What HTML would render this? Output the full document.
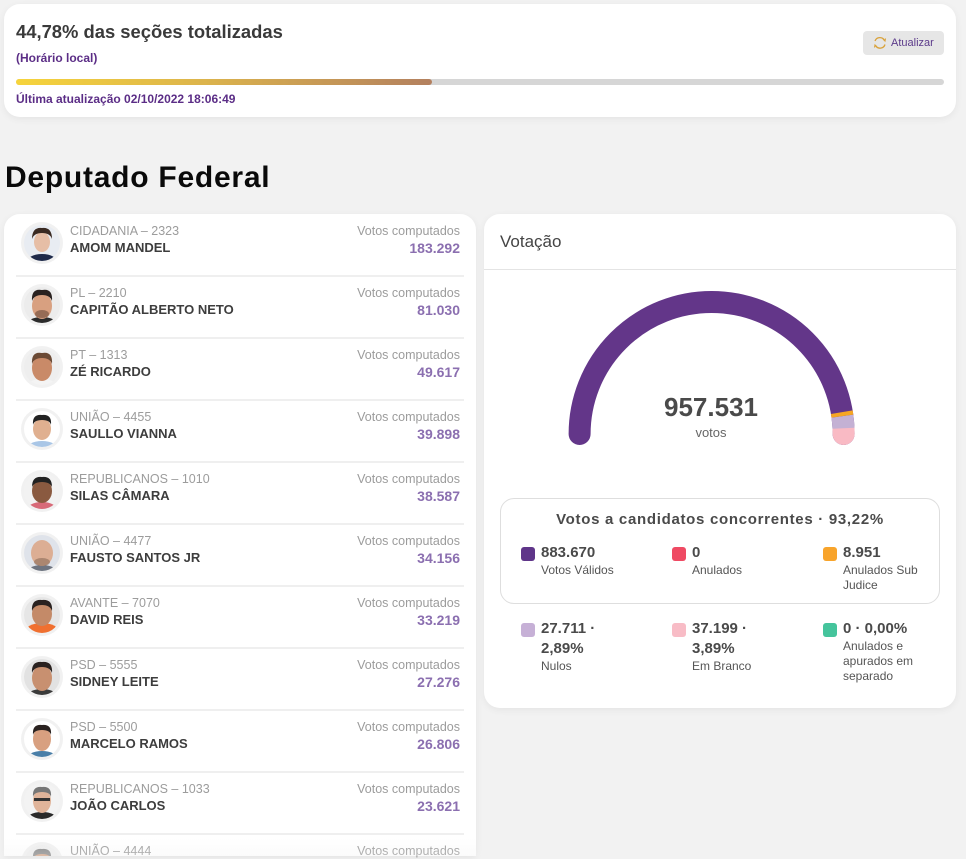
<!DOCTYPE html>
<html><head><meta charset="utf-8">
<style>
*{box-sizing:border-box;margin:0;padding:0}
html,body{width:966px;height:856px;overflow:hidden;background:#f2f2f2;font-family:"Liberation Sans",Arial,sans-serif}
.abs{position:absolute;white-space:nowrap}
.card{position:absolute;background:#fff;border-radius:16px;box-shadow:0 2px 8px rgba(0,0,0,0.06)}
.party{position:absolute;left:70px;font-size:12.5px;color:#9c9c9c;line-height:16px;white-space:nowrap}
.name{position:absolute;left:70px;font-size:13px;font-weight:bold;color:#3d3d3d;line-height:16px;white-space:nowrap}
.vc{position:absolute;right:506px;font-size:12.5px;color:#9c9c9c;line-height:16px;white-space:nowrap;text-align:right}
.num{position:absolute;right:506px;font-size:14px;font-weight:bold;color:#8b6fb0;line-height:16px;white-space:nowrap;text-align:right}
.sep{position:absolute;left:16px;width:448px;height:2px;background:#efefef}
.sq{position:absolute;width:14px;height:14px;border-radius:3px}
.val{position:absolute;font-size:15px;font-weight:bold;color:#4a4a4a;line-height:20px;white-space:nowrap}
.lab{position:absolute;font-size:12px;color:#555;line-height:15px;white-space:nowrap}
</style></head><body>

<!-- top card -->
<div class="card" style="left:4px;top:4px;width:952px;height:113px;"></div>
<div class="abs" style="left:16px;top:21px;font-size:18.4px;font-weight:bold;color:#3a3a3a;line-height:22px;">44,78% das seções totalizadas</div>
<div class="abs" style="left:16px;top:50px;font-size:12px;font-weight:bold;color:#5b2d86;line-height:16px;">(Horário local)</div>
<div class="abs" style="left:16px;top:79px;width:928px;height:6px;border-radius:3px;background:#d6d6d6;"></div>
<div class="abs" style="left:16px;top:79px;width:416px;height:6px;border-radius:3px;background:linear-gradient(90deg,#f6d43c,#dcb44c 45%,#b3805f);"></div>
<div class="abs" style="left:16px;top:91px;font-size:12px;font-weight:bold;color:#5b2d86;line-height:16px;">Última atualização 02/10/2022 18:06:49</div>
<div class="abs" style="left:863px;top:31px;width:81px;height:24px;border-radius:4px;background:#e6e6e6;"></div>
<svg class="abs" style="left:872px;top:36px" width="16" height="14" viewBox="0 0 16 14">
 <path d="M3 5 A5.2 5.2 0 0 1 12.5 4.5" fill="none" stroke="#d9a23a" stroke-width="1.3"/>
 <path d="M13 8.5 A5.2 5.2 0 0 1 3.5 9.5" fill="none" stroke="#d9a23a" stroke-width="1.3"/>
 <path d="M11 3 L13 5 L13.5 2.5" fill="none" stroke="#d9a23a" stroke-width="1.1"/>
 <path d="M5 11 L3 9 L2.5 11.5" fill="none" stroke="#d9a23a" stroke-width="1.1"/>
</svg>
<div class="abs" style="left:891px;top:36px;font-size:11px;color:#5b3a8a;line-height:14px;">Atualizar</div>

<!-- heading -->
<div class="abs" style="left:5px;top:160px;font-size:30px;font-weight:bold;color:#0a0a0a;line-height:36px;letter-spacing:0.75px;">Deputado Federal</div>

<!-- left card -->
<div class="card" style="left:4px;top:214px;width:472px;height:642px;border-radius:16px 16px 0 0;"></div>

<div class="party" style="top:223px">CIDADANIA – 2323</div>
<div class="name" style="top:240px">AMOM MANDEL</div>
<div class="vc" style="top:223px">Votos computados</div>
<div class="num" style="top:240px">183.292</div>
<div class="sep" style="top:275px"></div>

<div class="party" style="top:285px">PL – 2210</div>
<div class="name" style="top:302px">CAPITÃO ALBERTO NETO</div>
<div class="vc" style="top:285px">Votos computados</div>
<div class="num" style="top:302px">81.030</div>
<div class="sep" style="top:337px"></div>

<div class="party" style="top:347px">PT – 1313</div>
<div class="name" style="top:364px">ZÉ RICARDO</div>
<div class="vc" style="top:347px">Votos computados</div>
<div class="num" style="top:364px">49.617</div>
<div class="sep" style="top:399px"></div>

<div class="party" style="top:409px">UNIÃO – 4455</div>
<div class="name" style="top:426px">SAULLO VIANNA</div>
<div class="vc" style="top:409px">Votos computados</div>
<div class="num" style="top:426px">39.898</div>
<div class="sep" style="top:461px"></div>

<div class="party" style="top:471px">REPUBLICANOS – 1010</div>
<div class="name" style="top:488px">SILAS CÂMARA</div>
<div class="vc" style="top:471px">Votos computados</div>
<div class="num" style="top:488px">38.587</div>
<div class="sep" style="top:523px"></div>

<div class="party" style="top:533px">UNIÃO – 4477</div>
<div class="name" style="top:550px">FAUSTO SANTOS JR</div>
<div class="vc" style="top:533px">Votos computados</div>
<div class="num" style="top:550px">34.156</div>
<div class="sep" style="top:585px"></div>

<div class="party" style="top:595px">AVANTE – 7070</div>
<div class="name" style="top:612px">DAVID REIS</div>
<div class="vc" style="top:595px">Votos computados</div>
<div class="num" style="top:612px">33.219</div>
<div class="sep" style="top:647px"></div>

<div class="party" style="top:657px">PSD – 5555</div>
<div class="name" style="top:674px">SIDNEY LEITE</div>
<div class="vc" style="top:657px">Votos computados</div>
<div class="num" style="top:674px">27.276</div>
<div class="sep" style="top:709px"></div>

<div class="party" style="top:719px">PSD – 5500</div>
<div class="name" style="top:736px">MARCELO RAMOS</div>
<div class="vc" style="top:719px">Votos computados</div>
<div class="num" style="top:736px">26.806</div>
<div class="sep" style="top:771px"></div>

<div class="party" style="top:781px">REPUBLICANOS – 1033</div>
<div class="name" style="top:798px">JOÃO CARLOS</div>
<div class="vc" style="top:781px">Votos computados</div>
<div class="num" style="top:798px">23.621</div>
<div class="sep" style="top:833px"></div>

<div class="party" style="top:843px">UNIÃO – 4444</div>
<div class="vc" style="top:843px">Votos computados</div>

<!-- right card -->
<div class="card" style="left:484px;top:214px;width:472px;height:494px;"></div>
<div class="abs" style="left:500px;top:232px;font-size:17px;color:#444;line-height:20px;">Votação</div>
<div class="abs" style="left:484px;top:269px;width:472px;height:1px;background:#e4e4e4;"></div>
<div class="abs" style="left:611px;top:391px;width:200px;text-align:center;font-size:26px;font-weight:bold;color:#4a4a4a;line-height:32px;">957.531</div>
<div class="abs" style="left:611px;top:425px;width:200px;text-align:center;font-size:13px;color:#666;line-height:16px;">votos</div>

<!-- legend box -->
<div class="abs" style="left:500px;top:498px;width:440px;height:106px;border:1px solid #dedede;border-radius:14px;"></div>
<div class="abs" style="left:500px;top:510px;width:440px;text-align:center;font-size:15px;font-weight:bold;color:#4a4a4a;line-height:20px;letter-spacing:0.7px;">Votos a candidatos concorrentes · 93,22%</div>

<div class="sq" style="left:521px;top:547px;background:#5f3589"></div>
<div class="val" style="left:541px;top:543px">883.670</div>
<div class="lab" style="left:541px;top:563px">Votos Válidos</div>

<div class="sq" style="left:672px;top:547px;background:#ef4a63"></div>
<div class="val" style="left:692px;top:543px">0</div>
<div class="lab" style="left:692px;top:563px">Anulados</div>

<div class="sq" style="left:823px;top:547px;background:#f8a42b"></div>
<div class="val" style="left:843px;top:543px">8.951</div>
<div class="lab" style="left:843px;top:563px">Anulados Sub<br>Judice</div>

<div class="sq" style="left:521px;top:623px;background:#c6b0d6"></div>
<div class="val" style="left:541px;top:619px">27.711 ·<br>2,89%</div>
<div class="lab" style="left:541px;top:659px">Nulos</div>

<div class="sq" style="left:672px;top:623px;background:#f8bcc6"></div>
<div class="val" style="left:692px;top:619px">37.199 ·<br>3,89%</div>
<div class="lab" style="left:692px;top:659px">Em Branco</div>

<div class="sq" style="left:823px;top:623px;background:#45c49c"></div>
<div class="val" style="left:843px;top:619px">0 · 0,00%</div>
<div class="lab" style="left:843px;top:639px">Anulados e<br>apurados em<br>separado</div>

<!-- graphics overlay -->
<svg class="abs" style="left:0;top:0" width="966" height="856" viewBox="0 0 966 856">
 <defs><clipPath id="cp"><circle cx="0" cy="0" r="18"/></clipPath></defs>
 <!-- gauge -->
 <path d="M579.6 434 A132 132 0 0 1 843.6 434" fill="none" stroke="#633689" stroke-width="22" stroke-linecap="round"/>
 <path d="M843.47 428.24 A132 132 0 0 1 843.6 434" fill="none" stroke="#f9bac4" stroke-width="22" stroke-linecap="round"/>
 <path d="M842.38 416.08 A132 132 0 0 1 843.47 428.24" fill="none" stroke="#c4b1d4" stroke-width="22"/>
 <path d="M841.79 412.21 A132 132 0 0 1 842.38 416.08" fill="none" stroke="#f6a623" stroke-width="22"/>

 <!-- avatars -->
 <g transform="translate(42,243)"><circle r="21" fill="#f1f1f1"/><g clip-path="url(#cp)"><rect x="-18" y="-18" width="36" height="36" fill="#e8ecf2"/><ellipse cx="0" cy="20" rx="16" ry="9" fill="#1f2a4a"/><ellipse cx="0" cy="-1" rx="8" ry="10" fill="#e6bea6"/><path d="M-10 -4 Q-10 -16 0 -15 Q10 -16 10 -4 Q8 -10 0 -10 Q-8 -10 -10 -4Z" fill="#3a2a22"/></g></g>
 <g transform="translate(42,305)"><circle r="21" fill="#f1f1f1"/><g clip-path="url(#cp)"><rect x="-18" y="-18" width="36" height="36" fill="#ececec"/><ellipse cx="0" cy="20" rx="16" ry="8" fill="#2b2b2b"/><ellipse cx="0" cy="1" rx="10" ry="13" fill="#d8a080"/><path d="M-10 -4 Q-11 -17 0 -15 Q11 -17 10 -4 Q8 -10 0 -10 Q-8 -10 -10 -4Z" fill="#2a2220"/><ellipse cx="0" cy="9" rx="7" ry="4" fill="#6b4a3a" opacity="0.6"/></g></g>
 <g transform="translate(42,367)"><circle r="21" fill="#f1f1f1"/><g clip-path="url(#cp)"><rect x="-18" y="-18" width="36" height="36" fill="#eeeeee"/><ellipse cx="0" cy="20" rx="16" ry="8" fill="#f4f4f4"/><ellipse cx="0" cy="1" rx="10" ry="13" fill="#c98a68"/><path d="M-10 -3 Q-11 -16 0 -14 Q11 -16 10 -3 Q8 -9 0 -9 Q-8 -9 -10 -3Z" fill="#6b4a35"/></g></g>
 <g transform="translate(42,429)"><circle r="21" fill="#f1f1f1"/><g clip-path="url(#cp)"><rect x="-18" y="-18" width="36" height="36" fill="#ffffff"/><ellipse cx="0" cy="20" rx="16" ry="8" fill="#a9c6e6"/><ellipse cx="0" cy="0" rx="9" ry="11" fill="#e0b090"/><path d="M-9 -4 Q-10 -15 0 -14 Q10 -15 9 -4 Q8 -9 0 -9 Q-8 -9 -9 -4Z" fill="#222"/></g></g>
 <g transform="translate(42,491)"><circle r="21" fill="#f1f1f1"/><g clip-path="url(#cp)"><rect x="-18" y="-18" width="36" height="36" fill="#f2f2f2"/><ellipse cx="0" cy="20" rx="16" ry="9" fill="#d86a78"/><ellipse cx="0" cy="0" rx="10" ry="12" fill="#8a5a40"/><path d="M-10 -4 Q-10 -15 0 -14 Q10 -15 10 -4 Q8 -9 0 -9 Q-8 -9 -10 -4Z" fill="#222"/></g></g>
 <g transform="translate(42,553)"><circle r="21" fill="#f1f1f1"/><g clip-path="url(#cp)"><rect x="-18" y="-18" width="36" height="36" fill="#dfe3ea"/><ellipse cx="0" cy="20" rx="16" ry="8" fill="#6e7480"/><ellipse cx="0" cy="0" rx="11" ry="13" fill="#dcae94"/><ellipse cx="0" cy="9" rx="8" ry="4" fill="#8a6a58" opacity="0.6"/></g></g>
 <g transform="translate(42,615)"><circle r="21" fill="#f1f1f1"/><g clip-path="url(#cp)"><rect x="-18" y="-18" width="36" height="36" fill="#e6e6e6"/><ellipse cx="0" cy="18" rx="18" ry="10" fill="#f07030"/><ellipse cx="0" cy="-1" rx="10" ry="12" fill="#c48a68"/><path d="M-10 -4 Q-11 -16 0 -15 Q11 -16 10 -4 Q8 -10 0 -10 Q-8 -10 -10 -4Z" fill="#2a2220"/></g></g>
 <g transform="translate(42,677)"><circle r="21" fill="#f1f1f1"/><g clip-path="url(#cp)"><rect x="-18" y="-18" width="36" height="36" fill="#e2e2e2"/><ellipse cx="0" cy="20" rx="16" ry="8" fill="#3a3a3a"/><ellipse cx="0" cy="1" rx="10" ry="13" fill="#c89070"/><path d="M-10 -4 Q-11 -16 0 -15 Q11 -16 10 -4 Q8 -10 0 -10 Q-8 -10 -10 -4Z" fill="#2a2220"/></g></g>
 <g transform="translate(42,739)"><circle r="21" fill="#f1f1f1"/><g clip-path="url(#cp)"><rect x="-18" y="-18" width="36" height="36" fill="#ffffff"/><ellipse cx="0" cy="20" rx="16" ry="8" fill="#4a7fa8"/><ellipse cx="0" cy="0" rx="9" ry="12" fill="#d8a080"/><path d="M-9 -4 Q-10 -15 0 -14 Q10 -15 9 -4 Q8 -9 0 -9 Q-8 -9 -9 -4Z" fill="#2a2220"/></g></g>
 <g transform="translate(42,801)"><circle r="21" fill="#f1f1f1"/><g clip-path="url(#cp)"><rect x="-18" y="-18" width="36" height="36" fill="#f3f3f3"/><ellipse cx="0" cy="20" rx="17" ry="9" fill="#2a2a2a"/><ellipse cx="0" cy="0" rx="9" ry="12" fill="#e0b49a"/><path d="M-9 -4 Q-10 -15 0 -14 Q10 -15 9 -4 Q8 -9 0 -9 Q-8 -9 -9 -4Z" fill="#777"/><rect x="-8" y="-3" width="16" height="3" fill="#333"/></g></g>
 <g transform="translate(42,863)"><circle r="21" fill="#f1f1f1"/><g clip-path="url(#cp)"><rect x="-18" y="-18" width="36" height="36" fill="#eeeeee"/><ellipse cx="0" cy="0" rx="9" ry="12" fill="#d4a486"/><path d="M-9 -4 Q-10 -15 0 -14 Q10 -15 9 -4 Q8 -9 0 -9 Q-8 -9 -9 -4Z" fill="#888"/></g></g>
</svg>

<!-- bottom fade -->
<div class="abs" style="left:0;top:838px;width:966px;height:18px;background:linear-gradient(180deg,rgba(242,242,242,0),rgba(242,242,242,0.3));"></div>
</body></html>
